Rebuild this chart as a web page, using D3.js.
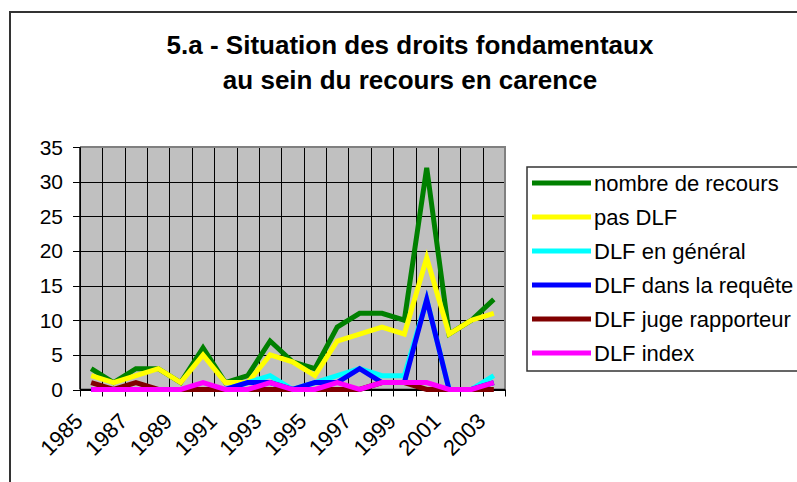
<!DOCTYPE html>
<html>
<head>
<meta charset="utf-8">
<script src="https://cdn.jsdelivr.net/npm/d3@7"></script>
<style>
  body { margin: 0; background: #fff; }
  text { font-family: "Liberation Sans", Arial, sans-serif; fill: #000; }
</style>
</head>
<body>
<div id="chart"></div>
<script>
// years on the category axis
var years = ["1985","1986","1987","1988","1989","1990","1991","1992","1993","1994",
             "1995","1996","1997","1998","1999","2000","2001","2002","2003"];

var nombreRecours = [3,1,3,3,1,6,1,2,7,4,3,9,11,11,10,32,8,10,13];
var pasDLF        = [2,1,2,3,1,5,1,1,5,4,2,7,8,9,8,19,8,10,11];
var dlfGeneral    = [0,0,0,0,0,0,0,1,2,0,1,2,3,2,2,13,0,0,2];
var dlfRequete    = [0,0,0,0,0,0,0,1,1,0,1,1,3,1,1,13,0,0,1];
var dlfJuge       = [1,0,1,0,0,0,0,0,0,0,0,0,0,1,1,0,0,0,0];
var dlfIndex      = [0,0,0,0,0,1,0,0,1,0,0,1,0,1,1,1,0,0,1];

var seriesNames  = ["nombre de recours","pas DLF","DLF en général","DLF dans la requête","DLF juge rapporteur","DLF index"];
var seriesColors = ["#008000","#FFFF00","#00FFFF","#0000FF","#800000","#FF00FF"];
var seriesValues = [nombreRecours, pasDLF, dlfGeneral, dlfRequete, dlfJuge, dlfIndex];

var yTicks = [0,5,10,15,20,25,30,35];
var titleLines = ["5.a - Situation des droits fondamentaux", "au sein du recours en carence"];

var width = 797, height = 482;
var plot = { left: 80, right: 505, top: 147, bottom: 389.5 };

var svg = d3.select("#chart").append("svg")
    .attr("width", width)
    .attr("height", height);

// outer chart frame (runs off the picture on right and bottom)
svg.append("rect")
    .attr("x", 10).attr("y", 12)
    .attr("width", 820).attr("height", 500)
    .attr("fill", "#fff")
    .attr("stroke", "#333").attr("stroke-width", 2);

svg.selectAll("text.title")
    .data(titleLines)
    .enter().append("text")
    .attr("class", "title")
    .attr("x", 410)
    .attr("y", function (d, i) { return 54 + i * 35; })
    .attr("text-anchor", "middle")
    .style("font-size", "26px")
    .style("font-weight", "bold")
    .text(function (d) { return d; });

var x = d3.scaleBand()
    .domain(years)
    .range([plot.left, plot.right])
    .padding(0);

var y = d3.scaleLinear()
    .domain([0, 35])
    .range([plot.bottom, plot.top]);

// plot background
svg.append("rect")
    .attr("x", plot.left).attr("y", plot.top)
    .attr("width", plot.right - plot.left)
    .attr("height", plot.bottom - plot.top)
    .attr("fill", "#c0c0c0");

// horizontal grid
svg.append("g")
    .selectAll("line")
    .data(yTicks)
    .enter().append("line")
    .attr("x1", plot.left).attr("x2", plot.right)
    .attr("y1", function (d) { return Math.round(y(d)) + 0.5; })
    .attr("y2", function (d) { return Math.round(y(d)) + 0.5; })
    .attr("stroke", "#000").attr("stroke-width", 1);

// vertical grid at category boundaries
var bounds = years.map(function (d) { return x(d); }).concat([x.range()[1]]);
svg.append("g")
    .selectAll("line")
    .data(bounds)
    .enter().append("line")
    .attr("x1", function (d) { return Math.round(d) + 0.5; })
    .attr("x2", function (d) { return Math.round(d) + 0.5; })
    .attr("y1", plot.top).attr("y2", plot.bottom)
    .attr("stroke", "#000").attr("stroke-width", 1);

// plot border top/right in grey
svg.append("path")
    .attr("d", "M" + plot.left + "," + plot.top + "H" + plot.right + "V" + plot.bottom)
    .attr("fill", "none")
    .attr("stroke", "#808080").attr("stroke-width", 2);

// y axis
svg.append("line")
    .attr("x1", plot.left).attr("x2", plot.left)
    .attr("y1", plot.top).attr("y2", plot.bottom)
    .attr("stroke", "#000").attr("stroke-width", 1.5);

var yAxis = svg.append("g").selectAll("g")
    .data(yTicks)
    .enter().append("g");
yAxis.append("line")
    .attr("x1", plot.left - 7).attr("x2", plot.left)
    .attr("y1", function (d) { return Math.round(y(d)) + 0.5; })
    .attr("y2", function (d) { return Math.round(y(d)) + 0.5; })
    .attr("stroke", "#000");
yAxis.append("text")
    .attr("x", plot.left - 17)
    .attr("y", function (d) { return y(d); })
    .attr("dy", "0.36em")
    .attr("text-anchor", "end")
    .style("font-size", "21px")
    .text(function (d) { return d; });

// x axis
svg.append("line")
    .attr("x1", plot.left).attr("x2", plot.right)
    .attr("y1", plot.bottom).attr("y2", plot.bottom)
    .attr("stroke", "#000").attr("stroke-width", 1.5);

svg.append("g").selectAll("line")
    .data(bounds)
    .enter().append("line")
    .attr("x1", function (d) { return Math.round(d) + 0.5; })
    .attr("x2", function (d) { return Math.round(d) + 0.5; })
    .attr("y1", plot.bottom).attr("y2", plot.bottom + 7)
    .attr("stroke", "#000");

svg.append("g").selectAll("text")
    .data(years.filter(function (d, i) { return i % 2 === 0; }))
    .enter().append("text")
    .attr("text-anchor", "end")
    .style("font-size", "22px")
    .attr("transform", function (d) {
        var cx = x(d) + x.bandwidth() / 2 - 7;
        return "translate(" + cx + "," + (plot.bottom + 33) + ") rotate(-45)";
    })
    .text(function (d) { return d; });

// series lines
var line = d3.line()
    .x(function (d, i) { return x(years[i]) + x.bandwidth() / 2; })
    .y(function (d) { return y(d); });

svg.append("g").selectAll("path")
    .data(seriesValues)
    .enter().append("path")
    .attr("d", line)
    .attr("fill", "none")
    .attr("stroke", function (d, i) { return seriesColors[i]; })
    .attr("stroke-width", 5)
    .attr("stroke-linejoin", "miter");

// legend
var legend = svg.append("g");
legend.append("rect")
    .attr("x", 527).attr("y", 167)
    .attr("width", 300).attr("height", 204)
    .attr("fill", "#fff")
    .attr("stroke", "#333").attr("stroke-width", 1.5);

var item = legend.selectAll("g.item")
    .data(seriesNames)
    .enter().append("g")
    .attr("class", "item")
    .attr("transform", function (d, i) { return "translate(0," + (183 + i * 34) + ")"; });
item.append("line")
    .attr("x1", 532).attr("x2", 591)
    .attr("stroke", function (d, i) { return seriesColors[i]; })
    .attr("stroke-width", 5);
item.append("text")
    .attr("x", 594)
    .attr("dy", "0.36em")
    .style("font-size", "22px")
    .text(function (d) { return d; });
</script>
</body>
</html>
